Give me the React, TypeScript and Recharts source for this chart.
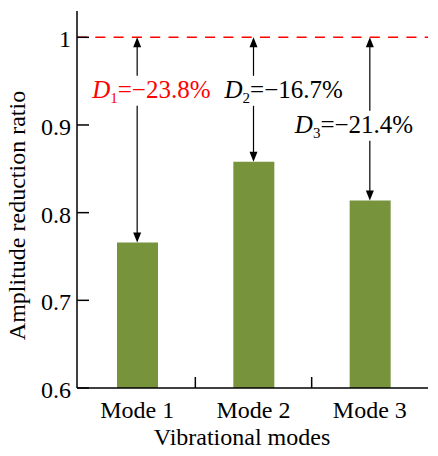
import React from 'react';
import { BarChart, Bar, XAxis, YAxis, ReferenceLine } from 'recharts';

document.body.style.margin = '0';

const modes = ['Mode 1', 'Mode 2', 'Mode 3'];
const ratios = [0.766, 0.858, 0.814];
const reference = 1;
const reductions = ['−23.8%', '−16.7%', '−21.4%'];
const yTicks = [0.6, 0.7, 0.8, 0.9, 1];

const data = modes.map((mode, i) => ({ mode, ratio: ratios[i] }));

const FONT = 'Liberation Serif, Times New Roman, serif';
const txt = { fontFamily: FONT, fontSize: 24 };
const GREEN = '#77933C';
const RED = '#ff0000';

// where each D label sits: value level of its baseline, x shift from the arrow, colour
const labelSpots = [
  { level: 0.931, dx: -45, color: RED },
  { level: 0.931, dx: -29, color: '#000' },
  { level: 0.891, dx: -75, color: '#000' },
];

const YTick = (props: any) => {
  const { x, y, payload } = props;
  return (
    <g>
      <line x1={x + 6} x2={x + 18} y1={y} y2={y} stroke="#000" strokeWidth={1.5} />
      <text x={x} y={y} dy={10} textAnchor="end" style={txt} fill="#000">
        {String(payload.value)}
      </text>
    </g>
  );
};

const XTick = (props: any) => {
  const { x, y, payload, index } = props;
  const half = payload.offset ?? 58;
  return (
    <g>
      {index < modes.length - 1 && (
        <line x1={x + half} x2={x + half} y1={y} y2={y - 11} stroke="#000" strokeWidth={1.5} />
      )}
      <text x={x} y={y} dy={30} textAnchor="middle" style={txt} fill="#000">
        {payload.value}
      </text>
    </g>
  );
};

const makeArrow = (i: number) => (p: any) => {
  const { x1, y1, x2, y2 } = p;
  const spot = labelSpots[i];
  const perUnit = (y2 - y1) / (reference - ratios[i]);
  const base = y1 + (reference - spot.level) * perUnit;
  const gapTop = base - 22;
  const gapBottom = base + 8;
  return (
    <g>
      <line x1={x1} x2={x1} y1={y1 + 8} y2={gapTop} stroke="#000" strokeWidth={1.2} />
      <line x1={x2} x2={x2} y1={gapBottom} y2={y2 - 8} stroke="#000" strokeWidth={1.2} />
      <polygon points={`${x1},${y1} ${x1 - 4},${y1 + 10} ${x1 + 4},${y1 + 10}`} fill="#000" />
      <polygon points={`${x2},${y2} ${x2 - 4},${y2 - 10} ${x2 + 4},${y2 - 10}`} fill="#000" />
      <text x={x1 + spot.dx} y={base} style={{ ...txt, fontSize: 25 }} fill={spot.color}>
        <tspan fontStyle="italic">D</tspan>
        <tspan fontSize={15} dy={5}>{i + 1}</tspan>
        <tspan dy={-5}>{'=' + reductions[i]}</tspan>
      </text>
    </g>
  );
};

export default function App() {
  return (
    <div style={{ fontFamily: FONT }}>
      <BarChart
        width={438}
        height={456}
        data={data}
        margin={{ top: 11, right: 10, bottom: 0, left: 0 }}
      >
        <XAxis
          dataKey="mode"
          height={68}
          padding={{ left: 2, right: 0 }}
          tickSize={0}
          tickMargin={0}
          tick={XTick}
          axisLine={{ stroke: '#000', strokeWidth: 1.5 }}
          interval={0}
          label={{
            content: () => (
              <text x={242} y={445} textAnchor="middle" style={txt} fill="#000">
                Vibrational modes
              </text>
            ),
          }}
        />
        <XAxis
          xAxisId="top"
          orientation="top"
          dataKey="mode"
          height={0}
          tick={false}
          tickLine={false}
          axisLine={{ stroke: '#000', strokeWidth: 1.5 }}
        />
        <YAxis
          width={77}
          domain={[0.6, 1.03]}
          ticks={yTicks}
          allowDataOverflow
          tickSize={0}
          tickMargin={6}
          tick={YTick}
          axisLine={{ stroke: '#000', strokeWidth: 1.5 }}
          label={{
            content: (lp: any) => {
              const vb = lp.viewBox || { x: 0, y: 11, width: 77, height: 377 };
              const cx = vb.x + 25;
              const cy = vb.y + vb.height / 2 + 16;
              return (
                <text
                  x={cx}
                  y={cy}
                  transform={`rotate(-90, ${cx}, ${cy})`}
                  textAnchor="middle"
                  style={txt}
                  fill="#000"
                >
                  Amplitude reduction ratio
                </text>
              );
            },
          }}
        />
        <YAxis
          yAxisId="right"
          orientation="right"
          width={0}
          tick={false}
          tickLine={false}
          axisLine={{ stroke: '#000', strokeWidth: 1.5 }}
        />
        <Bar dataKey="ratio" fill={GREEN} barSize={41} isAnimationActive={false} />
        <ReferenceLine
          y={reference}
          stroke={RED}
          strokeWidth={1.5}
          strokeDasharray="10 8.3"
        />
        {modes.map((m, i) => (
          <ReferenceLine
            key={m}
            segment={[
              { x: m, y: reference },
              { x: m, y: ratios[i] },
            ]}
            ifOverflow="visible"
            shape={makeArrow(i)}
          />
        ))}
      </BarChart>
    </div>
  );
}
